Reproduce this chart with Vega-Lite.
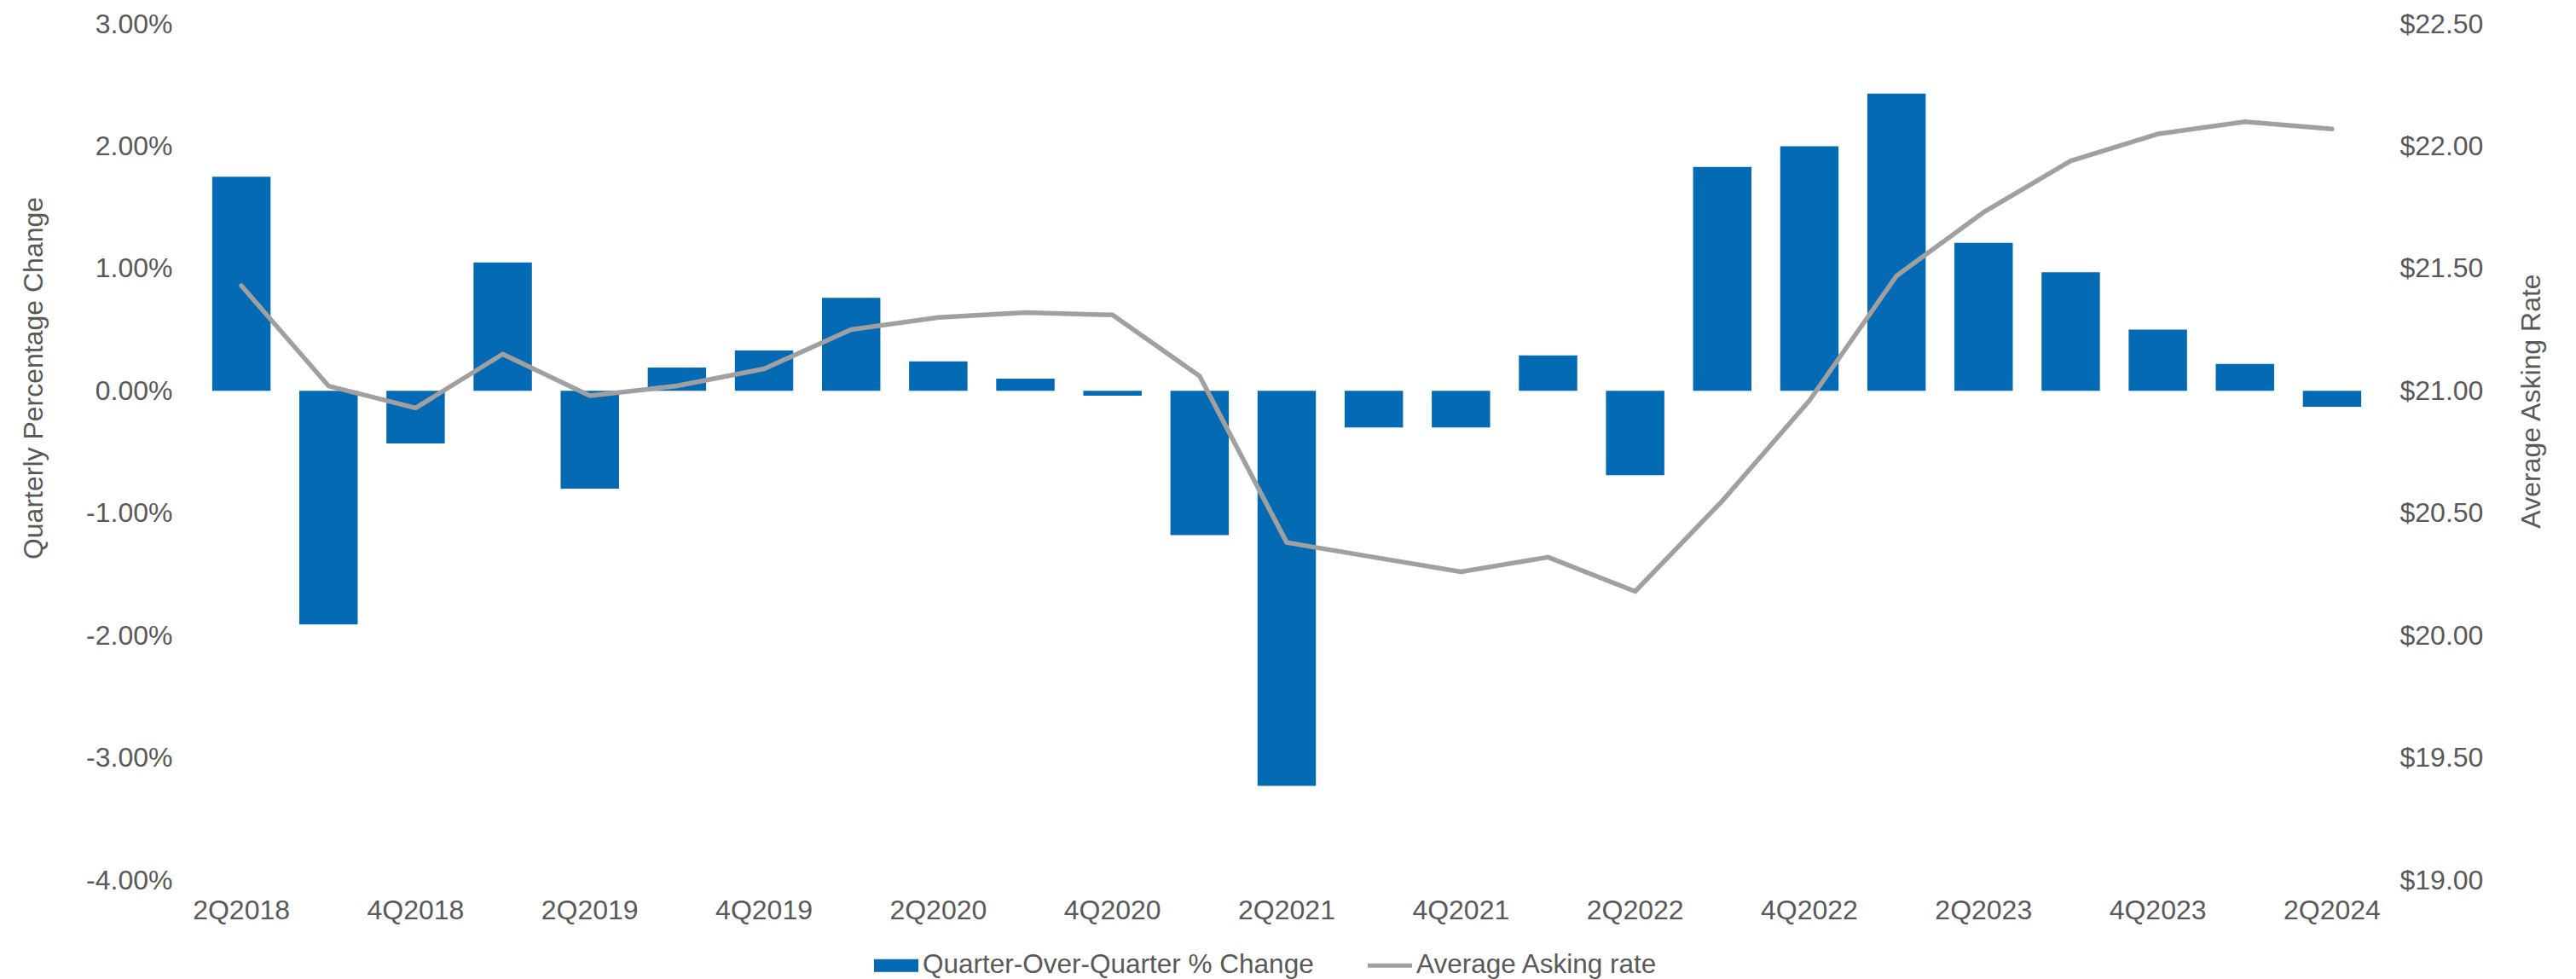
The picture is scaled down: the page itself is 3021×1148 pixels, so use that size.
{
  "$schema": "https://vega.github.io/schema/vega-lite/v6.json",
  "width": 2554,
  "height": 1004,
  "autosize": {"type": "none"},
  "padding": {"left": 232, "top": 28, "right": 235, "bottom": 116},
  "background": "white",
  "config": {
    "view": {"stroke": null},
    "font": "Liberation Sans",
    "axis": {"labelFont": "Liberation Sans", "titleFont": "Liberation Sans", "labelColor": "#595959", "titleColor": "#595959", "titleFontWeight": "normal", "grid": false, "domain": false, "ticks": false}
  },
  "data": {
    "values": [
      {"quarter": "2Q2018", "pct": 1.75, "rate": 21.43},
      {"quarter": "3Q2018", "pct": -1.91, "rate": 21.02},
      {"quarter": "4Q2018", "pct": -0.43, "rate": 20.93},
      {"quarter": "1Q2019", "pct": 1.05, "rate": 21.15},
      {"quarter": "2Q2019", "pct": -0.8, "rate": 20.98},
      {"quarter": "3Q2019", "pct": 0.19, "rate": 21.02},
      {"quarter": "4Q2019", "pct": 0.33, "rate": 21.09},
      {"quarter": "1Q2020", "pct": 0.76, "rate": 21.25},
      {"quarter": "2Q2020", "pct": 0.24, "rate": 21.3},
      {"quarter": "3Q2020", "pct": 0.1, "rate": 21.32},
      {"quarter": "4Q2020", "pct": -0.04, "rate": 21.31},
      {"quarter": "1Q2021", "pct": -1.18, "rate": 21.06},
      {"quarter": "2Q2021", "pct": -3.23, "rate": 20.38},
      {"quarter": "3Q2021", "pct": -0.3, "rate": 20.32},
      {"quarter": "4Q2021", "pct": -0.3, "rate": 20.26},
      {"quarter": "1Q2022", "pct": 0.29, "rate": 20.32},
      {"quarter": "2Q2022", "pct": -0.69, "rate": 20.18},
      {"quarter": "3Q2022", "pct": 1.83, "rate": 20.55},
      {"quarter": "4Q2022", "pct": 2.0, "rate": 20.96},
      {"quarter": "1Q2023", "pct": 2.43, "rate": 21.47},
      {"quarter": "2Q2023", "pct": 1.21, "rate": 21.73},
      {"quarter": "3Q2023", "pct": 0.97, "rate": 21.94},
      {"quarter": "4Q2023", "pct": 0.5, "rate": 22.05},
      {"quarter": "1Q2024", "pct": 0.22, "rate": 22.1},
      {"quarter": "2Q2024", "pct": -0.13, "rate": 22.07}
    ]
  },
  "encoding": {
    "x": {
      "field": "quarter",
      "type": "nominal",
      "sort": null,
      "scale": {"paddingInner": 0.33, "paddingOuter": 0.165},
      "axis": {
        "title": null,
        "labelAngle": 0,
        "labelFontSize": 32,
        "labelPadding": 20,
        "values": ["2Q2018", "4Q2018", "2Q2019", "4Q2019", "2Q2020", "4Q2020", "2Q2021", "4Q2021", "2Q2022", "4Q2022", "2Q2023", "4Q2023", "2Q2024"]
      }
    }
  },
  "layer": [
    {
      "layer": [
        {
          "mark": {"type": "rule", "color": "#d9d9d9", "strokeWidth": 2},
          "encoding": {"y": {"datum": 0, "type": "quantitative", "scale": {"domain": [-4, 3]}}}
        },
        {
          "mark": {"type": "bar", "color": "#046AB4"},
          "encoding": {
            "y": {
              "field": "pct",
              "type": "quantitative",
              "scale": {"domain": [-4, 3], "nice": false, "zero": false},
              "axis": {
                "title": "Quarterly Percentage Change",
                "titleFontSize": 32,
                "titleY": 415,
                "titlePadding": 44,
                "labelFontSize": 32,
                "labelPadding": 30,
                "values": [-4, -3, -2, -1, 0, 1, 2, 3],
                "labelExpr": "(datum.value < 0 ? '-' : '') + format(abs(datum.value), '.2f') + '%'"
              }
            },
            "color": {
              "datum": "Quarter-Over-Quarter % Change",
              "type": "nominal",
              "scale": {"domain": ["Quarter-Over-Quarter % Change", "Average Asking rate"], "range": ["#046AB4", "#A0A0A0"]},
              "legend": {
                "title": null,
                "orient": "none",
                "direction": "horizontal",
                "legendX": 793,
                "legendY": 1078,
                "padding": 0,
                "labelFont": "Liberation Sans",
                "labelFontSize": 31.5,
                "labelColor": "#595959",
                "labelLimit": 1000,
                "labelOffset": 5,
                "columnPadding": 63,
                "symbolSize": 2704,
                "symbolStrokeWidth": 0,
                "encode": {
                  "symbols": {
                    "update": {
                      "shape": {"signal": "datum.value === 'Average Asking rate' ? 'M-1,-0.1H1V0.1H-1Z' : 'M-1,-0.29H1V0.29H-1Z'"},
                      "fill": {"signal": "datum.value === 'Average Asking rate' ? '#A0A0A0' : '#046AB4'"},
                      "strokeWidth": {"value": 0},
                      "opacity": {"value": 1}
                    }
                  }
                }
              }
            }
          }
        }
      ]
    },
    {
      "mark": {"type": "line", "color": "#A0A0A0", "strokeWidth": 5.5, "strokeCap": "round", "strokeJoin": "round"},
      "encoding": {
        "y": {
          "field": "rate",
          "type": "quantitative",
          "scale": {"domain": [19, 22.5], "nice": false, "zero": false},
          "axis": {
            "orient": "right",
            "title": "Average Asking Rate",
            "titleFontSize": 32,
            "titleAngle": -90,
            "titleBaseline": "top",
            "titleY": 442,
            "titlePadding": 42,
            "labelFontSize": 32,
            "labelPadding": 28,
            "values": [19, 19.5, 20, 20.5, 21, 21.5, 22, 22.5],
            "labelExpr": "'$' + format(datum.value, '.2f')"
          }
        },
        "color": {"datum": "Average Asking rate", "type": "nominal"}
      }
    }
  ],
  "resolve": {"scale": {"y": "independent"}}
}
